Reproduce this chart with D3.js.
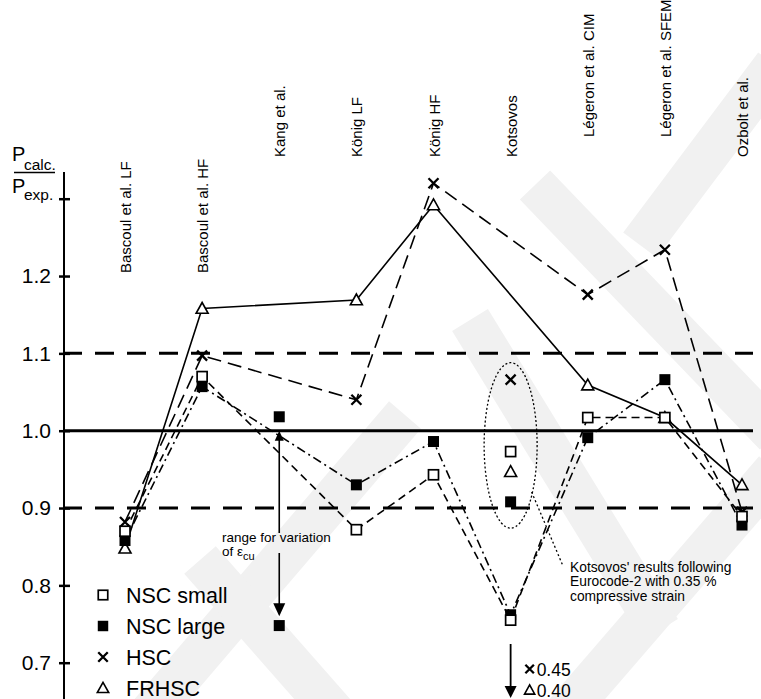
<!DOCTYPE html>
<html>
<head>
<meta charset="utf-8">
<script src="https://cdn.jsdelivr.net/npm/d3@7"></script>
<style>
  html, body { margin: 0; padding: 0; background: #fff; }
  svg { display: block; font-family: "Liberation Sans", Arial, sans-serif; }
</style>
</head>
<body>
<svg id="chart" width="761" height="699"></svg>
<script>
// ---- data ----------------------------------------------------------
const categories = [
  "Bascoul et al. LF", "Bascoul et al. HF", "Kang et al.", "König LF", "König HF",
  "Kotsovos", "Légeron et al. CIM", "Légeron et al. SFEM", "Ozbolt et al."
];
// label height level of each category name (0 = highest)
const labelTier = [2, 2, 1, 1, 1, 1, 0, 0, 1];

const nscSmall = [0.870, 1.070, null, 0.872, 0.943, 0.755, 1.017, 1.017, 0.889];
const nscLarge = [0.858, 1.057, null, 0.930, 0.986, 0.762, 0.991, 1.066, 0.878];
const hsc      = [0.882, 1.097, null, 1.040, 1.320, null,  1.176, 1.234, 0.895];
const frhsc    = [0.848, 1.158, null, 1.169, 1.292, null,  1.059, 1.017, 0.930];

// Kang et al.: NSC large for the two limits of the ultimate strain
const kangNscLarge = [1.018, 0.748];
const ecuRange = [1.0, 0.76];

// Kotsovos following Eurocode-2 (0.35 % compressive strain)
const ec2Series = ["HSC", "NSC small", "FRHSC", "NSC large"];
const ec2Values = [1.066, 0.973, 0.947, 0.908];
const ec2Envelope = [0.874, 1.088];

// Kotsovos values below the plotted range
const offSeries = ["HSC", "FRHSC"];
const offValues = [0.45, 0.40];

const yTicks = [0.7, 0.8, 0.9, 1.0, 1.1, 1.2, 1.3];
const refBand = [0.9, 1.0, 1.1];

const seriesNames = ["NSC small", "NSC large", "HSC", "FRHSC"];

// ---- setup ---------------------------------------------------------
const svg = d3.select("#chart");
const x = d3.scalePoint().domain(categories).range([125, 742]);
const y = d3.scaleLinear().domain([0.7, 1.3]).range([662.7, 198.7]);
const axisX = 64;

// faint background watermark bands
const wm = svg.append("g").attr("fill", "none").attr("stroke", "#f1f1f1")
  .attr("stroke-width", 42).attr("stroke-linecap", "butt");
[
  [[140, 725], [405, 415]],
  [[535, 185], [775, 435]],
  [[640, 245], [775, 65]],
  [[555, 725], [775, 470]],
  [[470, 320], [660, 630]],
  [[200, 560], [345, 725]]
].forEach(p => wm.append("path").attr("d", d3.line()(p)));

// ---- reference lines ----------------------------------------------
svg.append("line")
  .attr("x1", axisX).attr("x2", 753)
  .attr("y1", y(refBand[1])).attr("y2", y(refBand[1]))
  .attr("stroke", "#000").attr("stroke-width", 3);
[refBand[0], refBand[2]].forEach(v => {
  svg.append("line")
    .attr("x1", axisX - 1).attr("x2", 753)
    .attr("y1", y(v)).attr("y2", y(v))
    .attr("stroke", "#000").attr("stroke-width", 3)
    .attr("stroke-dasharray", "19,13");
});

// ---- y axis --------------------------------------------------------
svg.append("line")
  .attr("x1", axisX).attr("x2", axisX).attr("y1", 172).attr("y2", 699)
  .attr("stroke", "#000").attr("stroke-width", 2);

const yAxis = d3.axisLeft(y)
  .tickValues(yTicks)
  .tickSize(0)
  .tickPadding(13)
  .tickFormat(d => d >= 1.25 ? "" : d3.format(".1f")(d));
const gy = svg.append("g").attr("transform", `translate(${axisX},0)`).call(yAxis);
gy.select(".domain").remove();
gy.selectAll(".tick text")
  .attr("font-size", 21).attr("fill", "#000")
  .attr("font-family", "'Liberation Sans', Arial, sans-serif");
gy.selectAll(".tick").append("line")
  .attr("x1", -5).attr("x2", 6)
  .attr("stroke", "#000").attr("stroke-width", 2.5);

// axis title  P_calc. / P_exp.
const title = svg.append("g").attr("fill", "#000");
title.append("text").attr("x", 12).attr("y", 161).attr("font-size", 20).text("P");
title.append("text").attr("x", 24).attr("y", 170).attr("font-size", 15.5).text("calc.");
title.append("line").attr("x1", 14).attr("x2", 55).attr("y1", 172.5).attr("y2", 172.5)
  .attr("stroke", "#000").attr("stroke-width", 1.5);
title.append("text").attr("x", 12).attr("y", y(1.3) - 6).attr("font-size", 20).text("P");
title.append("text").attr("x", 24).attr("y", y(1.3) + 1).attr("font-size", 15.5).text("exp.");

// ---- category labels ----------------------------------------------
const tierY = [137, 157, 273];
categories.forEach((c, i) => {
  svg.append("text")
    .attr("transform", `translate(${x(c) + 6},${tierY[labelTier[i]]}) rotate(-90)`)
    .attr("font-size", 15).attr("fill", "#000")
    .text(c);
});

// ---- series lines --------------------------------------------------
const seriesData = [nscSmall, nscLarge, hsc, frhsc];
const dashes = ["8,5", "9,4,2,4", "14,7", null];
const line = d3.line().x(d => x(d.c)).y(d => y(d.v));

seriesData.forEach((arr, k) => {
  const pts = categories.map((c, i) => ({ c, v: arr[i] })).filter(d => d.v != null);
  svg.append("path")
    .datum(pts)
    .attr("d", line)
    .attr("fill", "none")
    .attr("stroke", "#000")
    .attr("stroke-width", 1.6)
    .attr("stroke-dasharray", dashes[k]);
});

// ---- markers -------------------------------------------------------
function marker(g, name, cx, cy, s) {
  s = s || 1;
  if (name === "NSC small") {
    g.append("rect").attr("x", cx - 5 * s).attr("y", cy - 5 * s)
      .attr("width", 10 * s).attr("height", 10 * s)
      .attr("fill", "#fff").attr("stroke", "#000").attr("stroke-width", 1.7);
  } else if (name === "NSC large") {
    g.append("rect").attr("x", cx - 5.5 * s).attr("y", cy - 5.5 * s)
      .attr("width", 11 * s).attr("height", 11 * s).attr("fill", "#000");
  } else if (name === "HSC") {
    const r = 5 * s;
    g.append("path")
      .attr("d", `M${cx - r},${cy - r}L${cx + r},${cy + r}M${cx - r},${cy + r}L${cx + r},${cy - r}`)
      .attr("stroke", "#000").attr("stroke-width", 2.3).attr("fill", "none");
  } else {
    const r = 6 * s;
    g.append("path")
      .attr("d", `M${cx},${cy - r}L${cx + r},${cy + r * 0.8}L${cx - r},${cy + r * 0.8}Z`)
      .attr("fill", "#fff").attr("stroke", "#000").attr("stroke-width", 1.6);
  }
}

const gm = svg.append("g");
// draw order keeps filled squares below open ones where they overlap
[frhsc, hsc, nscLarge, nscSmall].forEach((arr, k) => {
  const name = ["FRHSC", "HSC", "NSC large", "NSC small"][k];
  categories.forEach((c, i) => {
    if (arr[i] != null) marker(gm, name, x(c), y(arr[i]));
  });
});
kangNscLarge.forEach(v => marker(gm, "NSC large", x("Kang et al."), y(v)));

// Eurocode-2 points for Kotsovos
const kx = x("Kotsovos");
ec2Series.forEach((n, i) => marker(gm, n, kx, y(ec2Values[i])));

// dotted envelope around them and leader to the note
const ecTop = y(ec2Envelope[1]), ecBot = y(ec2Envelope[0]);
svg.append("ellipse")
  .attr("cx", kx).attr("cy", (ecTop + ecBot) / 2)
  .attr("rx", 26.5).attr("ry", (ecBot - ecTop) / 2)
  .attr("fill", "none").attr("stroke", "#000").attr("stroke-width", 1.3)
  .attr("stroke-dasharray", "2,2.2");
svg.append("line")
  .attr("x1", kx + 21).attr("y1", 492).attr("x2", 563).attr("y2", 566)
  .attr("stroke", "#000").attr("stroke-width", 1.3).attr("stroke-dasharray", "2,2.5");

const note = svg.append("text").attr("font-size", 13.8).attr("fill", "#000");
["Kotsovos' results following", "Eurocode-2 with 0.35 %", "compressive strain"]
  .forEach((t, i) => note.append("tspan").attr("x", 570).attr("y", 572 + i * 14.3).text(t));

// ---- Kang: range of the ultimate strain --------------------------
const ax = x("Kang et al.");
const aTop = y(ecuRange[0]), aBot = y(ecuRange[1]);
svg.append("path")
  .attr("d", `M${ax},${aTop}L${ax + 4.5},${aTop + 10}L${ax - 4.5},${aTop + 10}Z`)
  .attr("fill", "#000");
svg.append("path")
  .attr("d", `M${ax},${aBot}L${ax + 6},${aBot - 13}L${ax - 6},${aBot - 13}Z`)
  .attr("fill", "#000");
svg.append("line").attr("x1", ax).attr("x2", ax).attr("y1", aTop + 8).attr("y2", 533)
  .attr("stroke", "#000").attr("stroke-width", 1.6);
svg.append("line").attr("x1", ax).attr("x2", ax).attr("y1", 553).attr("y2", aBot - 11)
  .attr("stroke", "#000").attr("stroke-width", 1.6);
const rtxt = svg.append("g").attr("fill", "#000").attr("font-size", 13.5);
rtxt.append("text").attr("x", 222).attr("y", 542).text("range for variation");
const of = rtxt.append("text").attr("x", 222).attr("y", 556);
of.append("tspan").text("of ε");
of.append("tspan").attr("font-size", 11).attr("dy", 4).text("cu");

// ---- Kotsovos values below the range -----------------------------
svg.append("line").attr("x1", kx).attr("x2", kx).attr("y1", 644).attr("y2", 688)
  .attr("stroke", "#000").attr("stroke-width", 1.8);
svg.append("path")
  .attr("d", `M${kx},698L${kx + 6},686L${kx - 6},686Z`).attr("fill", "#000");
offSeries.forEach((n, i) => {
  const cy = 669 + i * 21;
  marker(svg, n, kx + 19, cy, 0.85);
  svg.append("text").attr("x", kx + 26).attr("y", cy + 6.5)
    .attr("font-size", 17.5).attr("fill", "#000")
    .text(d3.format(".2f")(offValues[i]));
});

// ---- legend --------------------------------------------------------
const lg = svg.append("g");
seriesNames.forEach((n, i) => {
  const cy = 595 + i * 31;
  marker(lg, n, 103, cy, 0.95);
  lg.append("text").attr("x", 126).attr("y", cy + 7.5)
    .attr("font-size", 21.5).attr("fill", "#000").text(n);
});
</script>
</body>
</html>
